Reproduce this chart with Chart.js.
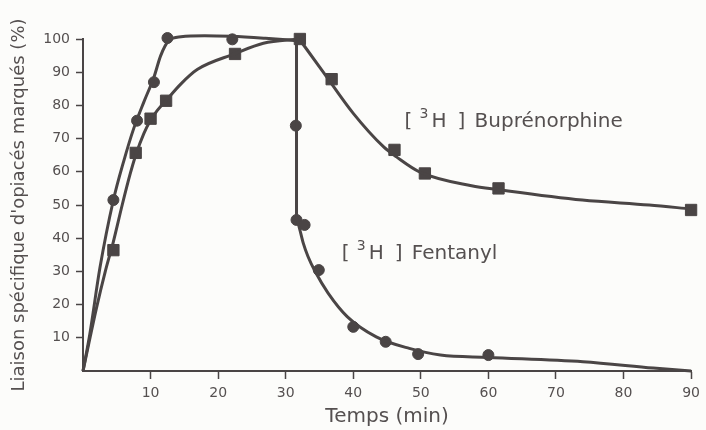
<!DOCTYPE html>
<html>
<head>
<meta charset="utf-8">
<script src="https://cdn.jsdelivr.net/npm/chart.js@4/dist/chart.umd.min.js"></script>
<style>
  html, body { margin: 0; padding: 0; background: #fcfcfa; }
  #wrap { width: 706px; height: 430px; }
</style>
</head>
<body>
<div id="wrap"><canvas id="chart" width="706" height="430"></canvas></div>
<script>
// measured points (markers)
const fentanylTime = [4.5, 8, 10.5, 12.5, 22.1, 31.5, 31.6, 32.8, 34.9, 40, 44.8, 49.6, 60];
const fentanylValue = [51.5, 75.4, 87, 100.3, 99.9, 73.9, 45.5, 44, 30.4, 13.3, 8.8, 5.1, 4.8];
const buprenorphineTime = [4.5, 7.8, 10, 12.3, 22.5, 32.1, 36.8, 46.1, 50.6, 61.5, 90];
const buprenorphineValue = [36.4, 65.7, 76, 81.4, 95.5, 100, 87.9, 66.6, 59.5, 55, 48.5];

// fitted curves
const fentanylRiseTime = [0, 1, 2.5, 4.5, 6, 7.5, 9, 10.5, 11.5, 12.7, 14.5, 18, 22, 27, 31.6];
const fentanylRiseValue = [0, 11, 31, 51.5, 63, 73, 81, 88.5, 95, 99.5, 100.7, 101, 100.8, 100.2, 99.5];
const fentanylDropTime = [31.6, 31.6];
const fentanylDropValue = [99.5, 46.5];
const fentanylDecayTime = [31.6, 32.1, 32.6, 33.3, 34.4, 36.3, 39.1, 43.4, 48.3, 52.9, 60, 74, 84.4, 90];
const fentanylDecayValue = [46.5, 42.5, 38.5, 34.5, 29.8, 23.4, 16.4, 10.3, 6.8, 4.8, 4.1, 2.8, 0.9, 0];
const buprenorphineRiseTime = [0, 2, 3.3, 4.5, 5.8, 7, 7.8, 9, 10, 11, 12.3, 14.5, 16.9, 22.4, 26.7, 32];
const buprenorphineRiseValue = [0, 19, 30, 39, 50, 59.5, 65, 71.5, 75.5, 78.5, 81.5, 86.5, 90.8, 95.5, 98.7, 100];
const buprenorphineFallTime = [32, 35.4, 40, 44.5, 46.4, 49.8, 57.5, 61.6, 73.9, 83.8, 90];
const buprenorphineFallValue = [100, 90.5, 77.6, 67.5, 64.5, 60, 55.8, 54.6, 51.5, 50, 48.8];

const xTicks = [10, 20, 30, 40, 50, 60, 70, 80, 90];
const yTicks = [10, 20, 30, 40, 50, 60, 70, 80, 90, 100];

const ink = '#4a4545';
const textInk = '#555050';
const fontFamily = '"DejaVu Sans", sans-serif';

function pts(xs, ys) {
  return xs.map((x, i) => ({ x: x, y: ys[i] }));
}

function curve(xs, ys, smooth) {
  return {
    data: pts(xs, ys),
    showLine: true,
    pointRadius: 0,
    borderColor: ink,
    borderWidth: 3,
    tension: smooth ? 0.4 : 0,
    cubicInterpolationMode: smooth ? 'monotone' : 'default',
    clip: false
  };
}

// background + the two curve labels
const paper = {
  id: 'paper',
  beforeDraw(chart) {
    const c = chart.ctx;
    c.save();
    c.fillStyle = '#fcfcfa';
    c.fillRect(0, 0, chart.width, chart.height);
    c.restore();
  },
  afterDatasetsDraw(chart) {
    const c = chart.ctx;
    const xs = chart.scales.x, ys = chart.scales.y;
    function label(tx, ty, name) {
      const x = xs.getPixelForValue(tx);
      const y = ys.getPixelForValue(ty);
      c.save();
      c.fillStyle = textInk;
      c.textBaseline = 'alphabetic';
      c.font = '20px ' + fontFamily;
      c.fillText('[', x, y);
      c.fillText('H', x + 27, y);
      c.fillText(']', x + 53, y);
      c.fillText(name, x + 70, y);
      c.font = '14px ' + fontFamily;
      c.fillText('3', x + 15, y - 9);
      c.restore();
    }
    label(47.6, 73.5, 'Buprénorphine');
    label(38.3, 33.7, 'Fentanyl');
  }
};

new Chart(document.getElementById('chart'), {
  type: 'scatter',
  data: {
    datasets: [
      curve(fentanylRiseTime, fentanylRiseValue, true),
      curve(fentanylDropTime, fentanylDropValue, false),
      curve(fentanylDecayTime, fentanylDecayValue, true),
      curve(buprenorphineRiseTime, buprenorphineRiseValue, true),
      curve(buprenorphineFallTime, buprenorphineFallValue, true),
      {
        label: '[3H] Fentanyl',
        data: pts(fentanylTime, fentanylValue),
        pointStyle: 'circle',
        pointRadius: 5.5,
        backgroundColor: ink,
        borderColor: ink,
        borderWidth: 1,
        clip: false
      },
      {
        label: '[3H] Buprénorphine',
        data: pts(buprenorphineTime, buprenorphineValue),
        pointStyle: 'rect',
        pointRadius: 8,
        backgroundColor: ink,
        borderColor: ink,
        borderWidth: 1,
        clip: false
      }
    ]
  },
  options: {
    responsive: false,
    animation: false,
    layout: { padding: { top: 39, right: 14, left: 0, bottom: 0 } },
    plugins: {
      legend: { display: false },
      tooltip: { enabled: false }
    },
    scales: {
      x: {
        type: 'linear',
        min: 0,
        max: 90,
        afterFit: s => { s.height = 59; },
        afterBuildTicks: s => { s.ticks = xTicks.map(v => ({ value: v })); },
        ticks: {
          padding: 6,
          color: textInk,
          font: { family: fontFamily, size: 14 },
          maxRotation: 0
        },
        grid: { drawOnChartArea: false, drawTicks: true, tickLength: 8, tickWidth: 1.5, color: ink },
        border: { display: true, color: ink, width: 2 },
        title: {
          display: true,
          text: 'Temps (min)',
          color: textInk,
          font: { family: fontFamily, size: 20 },
          padding: { top: 0, bottom: 1 }
        }
      },
      y: {
        type: 'linear',
        min: 0,
        max: 100,
        afterFit: s => { s.width = 83; },
        afterBuildTicks: s => { s.ticks = yTicks.map(v => ({ value: v })); },
        ticks: {
          padding: 6,
          color: textInk,
          font: { family: fontFamily, size: 14 }
        },
        grid: { drawOnChartArea: false, drawTicks: true, tickLength: 7, tickWidth: 1.5, color: ink },
        border: { display: true, color: ink, width: 2 },
        title: {
          display: true,
          text: "Liaison spécifique d'opiacés marqués (%)",
          color: textInk,
          font: { family: fontFamily, size: 18 },
          padding: { top: 9, bottom: 0 }
        }
      }
    }
  },
  plugins: [paper]
});
</script>
</body>
</html>
